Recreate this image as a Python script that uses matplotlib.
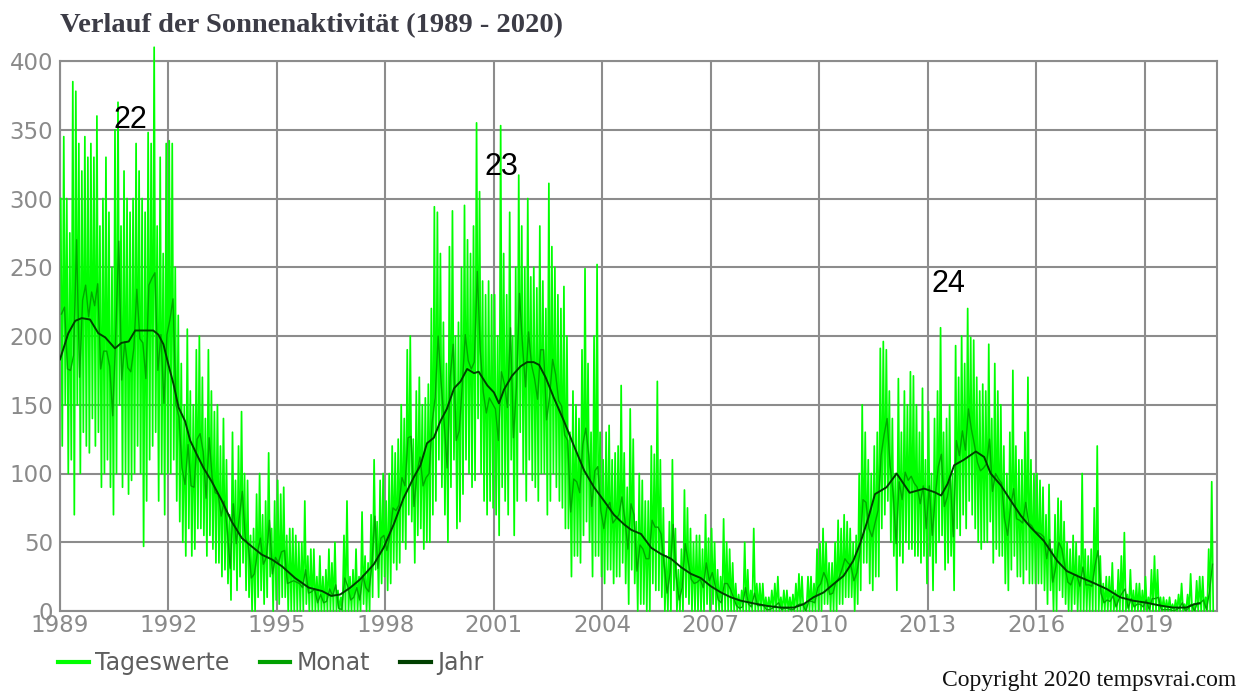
import numpy as np
import matplotlib.pyplot as plt
from matplotlib.lines import Line2D

# Monatsmittel (Monat), Jan 1989 .. Nov 2020
monat = [
    216, 221, 176, 175, 186, 270, 170, 226, 237, 214, 232, 222,  # 1989
    238, 176, 189, 189, 178, 142, 201, 269, 168, 196, 177, 174,  # 1990
    191, 234, 198, 195, 169, 237, 242, 246, 175, 201, 151, 201,  # 1991
    212, 227, 150, 141, 104, 92, 121, 91, 90, 125, 129, 116,     # 1992
    82, 126, 97, 86, 85, 69, 80, 59, 31, 78, 49, 68,             # 1993
    87, 53, 48, 24, 27, 42, 53, 34, 39, 66, 27, 39,              # 1994
    35, 43, 44, 20, 21, 22, 21, 20, 17, 30, 13, 14,              # 1995
    16, 6, 12, 6, 7, 16, 11, 19, 2, 1, 24, 18,                   # 1996
    8, 10, 17, 8, 26, 17, 14, 33, 69, 31, 53, 55,                # 1997
    44, 55, 75, 73, 77, 97, 91, 126, 127, 76, 101, 112,          # 1998
    91, 97, 100, 137, 155, 200, 166, 137, 104, 170, 194, 124,    # 1999
    131, 164, 201, 182, 176, 181, 247, 189, 159, 144, 155, 151,  # 2000
    147, 124, 174, 165, 148, 206, 126, 163, 231, 193, 163, 203,  # 2001
    179, 169, 154, 190, 190, 139, 156, 183, 172, 153, 149, 128,  # 2002
    124, 72, 96, 94, 86, 121, 133, 113, 76, 102, 105, 73,        # 2003
    60, 75, 79, 64, 67, 70, 83, 66, 45, 78, 70, 29,              # 2004
    48, 45, 38, 38, 66, 61, 61, 56, 34, 13, 28, 63,              # 2005
    25, 8, 17, 49, 36, 23, 20, 21, 23, 17, 35, 22,               # 2006
    28, 18, 8, 6, 20, 20, 16, 10, 4, 2, 3, 17,                   # 2007
    5, 3, 13, 4, 4, 4, 1, 1, 2, 4, 6, 1,                         # 2008
    2, 2, 1, 1, 4, 5, 5, 0, 7, 7, 6, 17,                         # 2009
    20, 28, 23, 12, 13, 21, 24, 30, 38, 35, 33, 22,              # 2010
    28, 43, 81, 79, 60, 54, 64, 73, 113, 128, 140, 106,          # 2011
    86, 49, 94, 81, 101, 95, 98, 93, 90, 78, 91, 60,             # 2012
    91, 55, 84, 105, 114, 76, 83, 96, 54, 124, 113, 131,         # 2013
    117, 147, 132, 121, 108, 102, 104, 107, 125, 87, 100, 96,    # 2014
    93, 67, 55, 75, 89, 67, 66, 64, 79, 64, 62, 58,              # 2015
    57, 56, 54, 38, 52, 21, 32, 50, 45, 33, 21, 19,              # 2016
    26, 26, 18, 32, 19, 19, 18, 33, 44, 13, 6, 8,                # 2017
    7, 11, 3, 9, 13, 16, 2, 9, 3, 5, 5, 3,                       # 2018
    8, 1, 9, 9, 10, 1, 1, 1, 1, 0, 1, 2,                         # 2019
    6, 0, 2, 5, 0, 6, 6, 8, 1, 14, 34,                           # 2020
]

# hoechster / niedrigster Tageswert je Monat
tag_max = [
    300, 345, 300, 275, 385, 378, 340, 320, 345, 330, 340, 330,
    360, 280, 300, 330, 290, 250, 350, 370, 280, 320, 300, 290,
    300, 340, 320, 300, 290, 348, 340, 410, 280, 330, 260, 340,
    342, 340, 250, 215, 180, 150, 205, 160, 150, 190, 200, 170,
    140, 190, 160, 145, 150, 120, 140, 110, 70, 130, 95, 120,
    145, 100, 95, 55, 60, 85, 100, 70, 80, 115, 60, 80,
    95, 85, 90, 55, 60, 60, 55, 50, 50, 80, 40, 45,
    45, 25, 40, 25, 30, 45, 35, 50, 15, 10, 55, 80,
    25, 30, 45, 25, 72, 40, 35, 70, 110, 65, 95, 100,
    80, 100, 120, 115, 125, 150, 140, 190, 200, 125, 160, 170,
    150, 155, 165, 220, 294, 290, 260, 210, 180, 265, 291, 200,
    210, 250, 295, 270, 260, 280, 355, 305, 240, 230, 240, 230,
    230, 200, 353, 260, 230, 290, 200, 250, 317, 280, 250, 300,
    243, 250, 235, 280, 240, 220, 311, 265, 250, 230, 220, 236,
    200, 130, 160, 150, 140, 190, 249, 180, 130, 200, 252, 130,
    110, 130, 135, 110, 115, 120, 164, 115, 90, 147, 125, 65,
    100, 95, 80, 80, 120, 114, 167, 110, 75, 40, 65, 110,
    60, 30, 45, 88, 75, 60, 50, 55, 55, 45, 70, 53,
    60, 50, 30, 25, 67, 50, 45, 35, 20, 12, 15, 50,
    30, 15, 60, 20, 20, 20, 10, 10, 15, 20, 25, 10,
    15, 15, 10, 12, 20, 27, 25, 5, 25, 25, 20, 45,
    49, 60, 50, 35, 35, 50, 66, 60, 70, 65, 60, 50,
    55, 100, 150, 130, 110, 100, 120, 130, 191, 196, 190, 160,
    140, 100, 169, 130, 160, 150, 174, 171, 150, 130, 162, 110,
    145, 100, 140, 160, 206, 130, 140, 150, 100, 193, 170, 200,
    180, 220, 199, 197, 170, 160, 165, 160, 194, 140, 180, 160,
    150, 120, 100, 130, 175, 120, 110, 110, 130, 170, 110, 100,
    100, 95, 90, 70, 92, 45, 70, 82, 80, 65, 50, 45,
    55, 50, 40, 100, 45, 40, 45, 75, 120, 40, 20, 25,
    25, 35, 15, 30, 40, 57, 12, 30, 15, 20, 20, 15,
    25, 10, 30, 40, 30, 10, 10, 8, 10, 5, 8, 12,
    20, 5, 12, 27, 5, 22, 25, 25, 10, 45, 94,
]
tag_min = [
    120, 150, 100, 110, 70, 150, 100, 130, 120, 115, 140, 120,
    130, 90, 100, 110, 90, 70, 100, 150, 90, 100, 85, 95,
    100, 120, 100, 47, 80, 110, 120, 130, 80, 100, 70, 100,
    100, 110, 80, 65, 50, 40, 60, 40, 45, 60, 60, 55,
    40, 55, 45, 35, 35, 25, 30, 20, 8, 30, 15, 25,
    35, 15, 10, 0, 0, 10, 15, 5, 10, 25, 0, 8,
    5, 10, 10, 0, 0, 0, 0, 0, 0, 5, 0, 0,
    0, 0, 0, 0, 0, 0, 0, 0, 0, 0, 0, 0,
    0, 0, 0, 0, 5, 0, 0, 10, 30, 10, 20, 25,
    15, 20, 35, 30, 35, 50, 45, 70, 65, 35, 55, 60,
    45, 50, 50, 70, 80, 110, 90, 70, 50, 90, 110, 60,
    65, 85, 110, 100, 90, 95, 140, 100, 80, 70, 80, 75,
    70, 55, 90, 80, 70, 110, 55, 80, 130, 100, 80, 110,
    95, 90, 80, 100, 100, 70, 80, 100, 90, 80, 75, 60,
    60, 25, 40, 40, 35, 55, 65, 50, 25, 40, 40, 25,
    20, 30, 30, 20, 25, 25, 35, 20, 5, 30, 20, 0,
    5, 5, 0, 0, 20, 15, 15, 10, 0, 0, 0, 15,
    0, 0, 0, 10, 5, 0, 0, 0, 0, 0, 5, 0,
    5, 0, 0, 0, 0, 0, 0, 0, 0, 0, 0, 0,
    0, 0, 0, 0, 0, 0, 0, 0, 0, 0, 0, 0,
    0, 0, 0, 0, 0, 0, 0, 0, 0, 0, 0, 0,
    0, 5, 5, 0, 0, 0, 5, 5, 10, 10, 10, 0,
    5, 15, 35, 35, 20, 15, 25, 25, 60, 70, 80, 50,
    40, 15, 40, 35, 50, 45, 45, 40, 40, 35, 40, 20,
    40, 15, 35, 50, 55, 30, 35, 40, 15, 60, 55, 70,
    60, 80, 70, 60, 50, 45, 50, 50, 65, 35, 45, 40,
    40, 20, 15, 30, 40, 25, 25, 20, 30, 20, 20, 20,
    20, 20, 15, 5, 15, 0, 0, 15, 10, 5, 0, 0,
    5, 0, 0, 0, 0, 0, 0, 0, 0, 0, 0, 0,
    0, 0, 0, 0, 0, 0, 0, 0, 0, 0, 0, 0,
    0, 0, 0, 0, 0, 0, 0, 0, 0, 0, 0, 0,
    0, 0, 0, 0, 0, 0, 0, 0, 0, 0, 0,
]

# gleitendes Jahresmittel (Jahr)
jahr_t = [1989.0, 1989.23, 1989.42, 1989.6, 1989.83, 1990.06, 1990.25, 1990.52, 1990.7, 1990.9,
          1991.08, 1991.35, 1991.58, 1991.72, 1991.86, 1992.0, 1992.14, 1992.28, 1992.46, 1992.6,
          1992.78, 1992.97, 1993.2, 1993.48, 1993.75, 1994.03, 1994.3, 1994.58, 1994.86, 1995.14,
          1995.5, 1995.88, 1996.25, 1996.5, 1996.75, 1997.03, 1997.3, 1997.68, 1997.95, 1998.23,
          1998.5, 1998.78, 1998.97, 1999.15, 1999.34, 1999.52, 1999.7, 1999.9, 2000.08, 2000.26,
          2000.45, 2000.58, 2000.82, 2001.0, 2001.14, 2001.28, 2001.5, 2001.74, 2001.92, 2002.1,
          2002.25, 2002.43, 2002.66, 2002.94, 2003.2, 2003.5, 2003.77, 2004.05, 2004.32, 2004.6,
          2004.8, 2005.07, 2005.35, 2005.62, 2005.9, 2006.17, 2006.45, 2006.72, 2007.0, 2007.28,
          2007.55, 2007.83, 2008.19, 2008.56, 2008.93, 2009.3, 2009.57, 2009.84, 2010.12, 2010.39,
          2010.67, 2010.94, 2011.13, 2011.36, 2011.54, 2011.86, 2012.14, 2012.32, 2012.5, 2012.9,
          2013.18, 2013.37, 2013.55, 2013.73, 2014.0, 2014.33, 2014.56, 2014.74, 2015.02, 2015.29,
          2015.57, 2015.84, 2016.21, 2016.58, 2016.85, 2017.22, 2017.58, 2017.95, 2018.32, 2018.68,
          2019.05, 2019.42, 2019.78, 2020.15, 2020.38, 2020.52]
jahr_v = [183, 202, 211, 213, 212, 202, 199, 191, 195, 196,
          204, 204, 204, 201, 194, 179, 165, 148, 138, 124,
          114, 104, 94, 80, 65, 53, 47, 41, 37.5, 32.5,
          24, 17, 14.5, 11, 12, 17, 23, 34, 46, 63,
          82, 97, 106, 122, 126, 138, 147, 162, 167, 176,
          173, 174, 164, 159, 151, 161, 171, 178, 181, 181,
          179, 170, 155, 138, 121, 102, 90, 80, 70, 63,
          59, 56, 46, 41.5, 38, 32, 27, 24, 18, 13.5,
          10, 7.5, 5.5, 3.7, 2.5, 2.5, 5, 10, 13.5, 19.5,
          25.5, 36.5, 49, 68, 85, 90, 100, 93, 86, 89,
          86.5, 84, 92.5, 106, 110, 116, 112, 100, 91.5, 80.5,
          69.5, 61, 51, 36.5, 29, 24.5, 20.5, 16, 10, 7.5,
          6, 4, 2.5, 2.5, 5, 5.5]

jahre = list(range(1989, 2022, 3))
zyklen = ['22', '23', '24']
zyklus_x = [1990.94, 2001.22, 2013.56]
zyklus_y = [357, 323, 238]

t = 1989 + np.arange(len(monat)) / 12
tx = np.column_stack([t + 0.25 / 12, t + 0.75 / 12]).ravel()
ty = np.column_stack([tag_max, tag_min]).ravel()

fig = plt.figure(figsize=(12.51, 6.92), dpi=100)
ax = fig.add_axes([60 / 1251, 81 / 692, 1157 / 1251, 550 / 692])

ax.plot(tx, ty, color='#00ff00', lw=1.25, clip_on=False, zorder=3)
ax.plot(t + 0.5 / 12, monat, color='#00a800', lw=1.0, zorder=4)
ax.plot(jahr_t, jahr_v, color='#004000', lw=1.4, zorder=5)

for s, x, y in zip(zyklen, zyklus_x, zyklus_y):
    ax.text(x, y, s, fontsize=22, family='Liberation Sans', ha='center', va='center', zorder=6)

ax.set_xlim(1989, 2021)
ax.set_ylim(0, 400)
ax.set_xticks(jahre)
ax.set_yticks(range(0, 401, 50))
ax.grid(True, color='#8c8c8c', lw=1.5)
ax.set_axisbelow(True)
for sp in ax.spines.values():
    sp.set_color('#8c8c8c')
    sp.set_linewidth(1.5)
ax.tick_params(length=0, labelsize=16.5, labelcolor='#8a8a8a')
ax.tick_params(axis='y', pad=5)
ax.tick_params(axis='x', pad=2)

handles = [Line2D([], [], color='#00ff00', lw=3),
           Line2D([], [], color='#00a000', lw=3),
           Line2D([], [], color='#004000', lw=3)]
ax.legend(handles, ['Tageswerte', 'Monat', 'Jahr'], loc='center left',
          bbox_to_anchor=(58 / 1251, 1 - 663 / 692), bbox_transform=fig.transFigure,
          ncol=3, frameon=False, fontsize=17, labelcolor='#5e5e5e',
          handlelength=1.3, handletextpad=0.25, columnspacing=1.3,
          borderpad=0, borderaxespad=0)

fig.text(60 / 1251, 1 - 32 / 692, 'Verlauf der Sonnenaktivität (1989 - 2020)',
         family='Liberation Serif', weight='bold', fontsize=20.5, color='#3c3c46', va='baseline')
fig.text(1236 / 1251, 1 - 686 / 692, 'Copyright 2020 tempsvrai.com',
         family='Liberation Serif', fontsize=17, color='#111111', ha='right', va='baseline')

fig.savefig('out.png', dpi=100)
